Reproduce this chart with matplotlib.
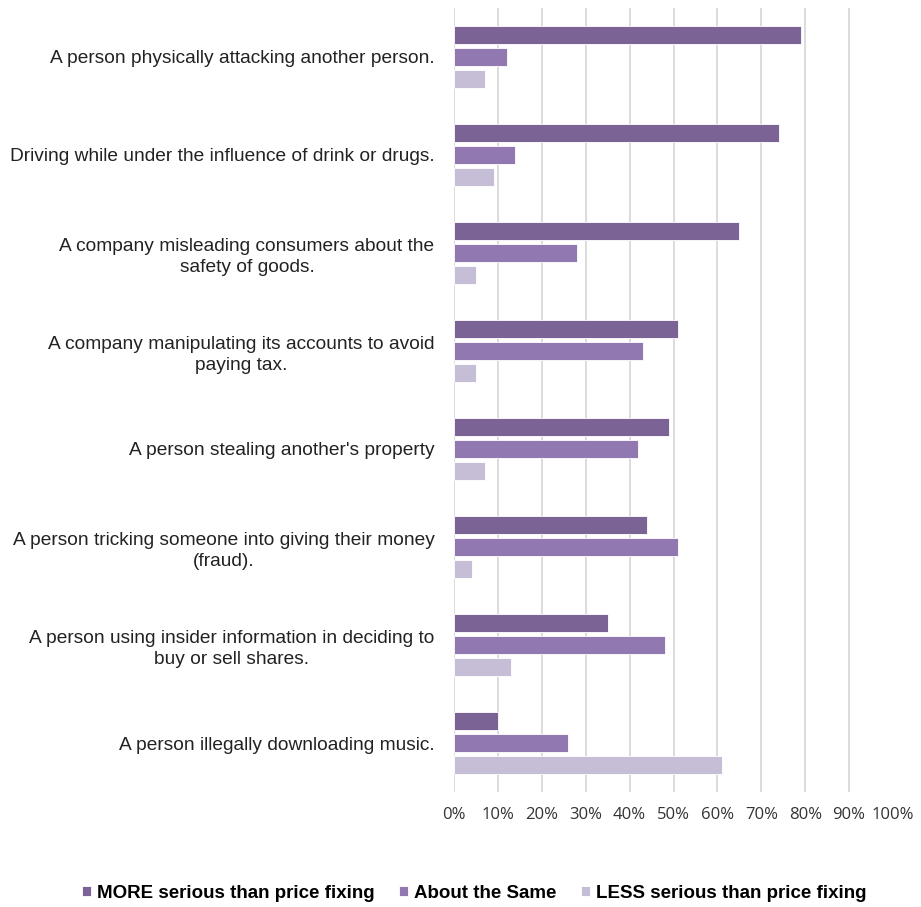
import numpy as np
import matplotlib
matplotlib.use("Agg")
import matplotlib.pyplot as plt
from matplotlib.ticker import PercentFormatter

categories = [
    "A person physically attacking another person.",
    "Driving while under the influence of drink or drugs.",
    "A company misleading consumers about the\nsafety of goods.",
    "A company manipulating its accounts to avoid\npaying tax.",
    "A person stealing another's property",
    "A person tricking someone into giving their money\n(fraud).",
    "A person using insider information in deciding to\nbuy or sell shares.",
    "A person illegally downloading music.",
]
more_serious = [79, 74, 65, 51, 49, 44, 35, 10]
about_same = [12, 14, 28, 43, 42, 51, 48, 26]
less_serious = [7, 9, 5, 5, 7, 4, 13, 61]

series_names = ["MORE serious than price fixing", "About the Same",
                "LESS serious than price fixing"]
colors = ["#7b6395", "#9178b0", "#c6bdd7"]
xticks = list(range(0, 101, 10))

fig = plt.figure(figsize=(9.21, 9.07), dpi=100)
ax = fig.add_axes([454 / 921, 1 - 792 / 907, (893 - 454) / 921, 784 / 907])

y = np.arange(len(categories))
step = 0.224
h = 0.19
for k, (vals, name, col) in enumerate(zip([more_serious, about_same, less_serious],
                                          series_names, colors)):
    ax.barh(y + (k - 1) * step, vals, height=h, color=col, label=name,
            edgecolor="white", linewidth=0.6, zorder=3)

ax.set_ylim(len(categories) - 0.5, -0.5)
ax.set_xlim(0, 100)
ax.set_xticks(xticks)
ax.xaxis.set_major_formatter(PercentFormatter(decimals=0))
for xv in xticks[:-1]:
    ax.axvline(xv, color="#dcdcdc", lw=1.4, zorder=1)

ax.set_yticks(y)
ax.set_yticklabels(categories, fontsize=13.8, family="Liberation Sans",
                   color="#222222", multialignment="center", linespacing=1.3)
ax.tick_params(axis="y", length=0, pad=14)
ax.tick_params(axis="x", length=0, pad=11, labelsize=12, labelcolor="#333333")
for lab in ax.get_xticklabels():
    lab.set_family("Open Sans")
for s in ax.spines.values():
    s.set_visible(False)

fig.legend(loc="center", bbox_to_anchor=(474 / 921, 1 - 893 / 907), ncol=3,
           frameon=False, handlelength=0.5, handleheight=0.5,
           handletextpad=0.3, columnspacing=1.3,
           prop={"family": "Liberation Sans", "weight": "bold", "size": 13.5})

fig.savefig("out.png", dpi=100, facecolor="white")
